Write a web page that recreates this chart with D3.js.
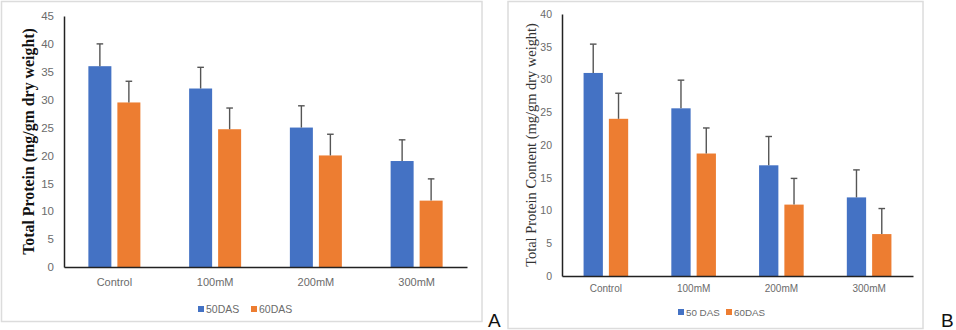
<!DOCTYPE html>
<html>
<head>
<meta charset="utf-8">
<script src="https://cdn.jsdelivr.net/npm/d3@7/dist/d3.min.js"></script>
<style>
html,body{margin:0;padding:0;background:#fff;}
svg{display:block;}
</style>
</head>
<body>
<svg id="chart" width="956" height="330"></svg>
<script>
// ---- data ----
const categories = ["Control", "100mM", "200mM", "300mM"];

const seriesA = ["50DAS", "60DAS"];
const a50 = [36, 32, 25, 19];
const a50Err = [4, 3.8, 3.9, 3.8];
const a60 = [29.5, 24.7, 20, 11.9];
const a60Err = [3.8, 3.8, 3.8, 3.9];
const yTicksA = [0, 5, 10, 15, 20, 25, 30, 35, 40, 45];
const titleA = "Total Protein (mg/gm dry weight)";

const seriesB = ["50 DAS", "60DAS"];
const b50 = [31, 25.6, 16.9, 12];
const b50Err = [4.4, 4.3, 4.4, 4.2];
const b60 = [24, 18.7, 10.9, 6.4];
const b60Err = [3.9, 3.9, 4.0, 3.9];
const yTicksB = [0, 5, 10, 15, 20, 25, 30, 35, 40];
const titleB = "Total Protein Content (mg/gm dry weight)";

const colors = ["#4472C4", "#ED7D31"];

const svg = d3.select("#chart");

function drawPanel(cfg) {
  const g = svg.append("g");
  // frame
  g.append("rect")
    .attr("x", cfg.frame[0]).attr("y", cfg.frame[1])
    .attr("width", cfg.frame[2]).attr("height", cfg.frame[3])
    .attr("fill", "none").attr("stroke", "#dcdcdc").attr("stroke-width", 1.5);

  const y = d3.scaleLinear().domain([0, d3.max(cfg.yTicks)]).range([cfg.bottom, cfg.top]);
  const x0 = d3.scaleBand().domain(categories).range([cfg.left, cfg.right]);
  const step = cfg.barW + cfg.gap;
  const pi = cfg.gap / step;
  const po = (x0.bandwidth() - step * (2 - pi)) / (2 * step);
  const x1 = d3.scaleBand().domain([0, 1]).range([0, x0.bandwidth()])
    .paddingInner(pi).paddingOuter(po);

  const series = [
    { vals: cfg.s1, errs: cfg.e1 },
    { vals: cfg.s2, errs: cfg.e2 }
  ];

  // bars
  series.forEach((s, si) => {
    g.selectAll(null).data(categories).enter().append("rect")
      .attr("x", (d) => x0(d) + x1(si))
      .attr("y", (d, i) => y(s.vals[i]))
      .attr("width", x1.bandwidth())
      .attr("height", (d, i) => y(0) - y(s.vals[i]))
      .attr("fill", colors[si]);
  });
  // error bars
  series.forEach((s, si) => {
    const cx = (d) => x0(d) + x1(si) + x1.bandwidth() / 2;
    g.selectAll(null).data(categories).enter().append("line")
      .attr("x1", cx).attr("x2", cx)
      .attr("y1", (d, i) => y(s.vals[i]))
      .attr("y2", (d, i) => y(s.vals[i] + s.errs[i]))
      .attr("stroke", "#555").attr("stroke-width", 1.4);
    g.selectAll(null).data(categories).enter().append("line")
      .attr("x1", (d) => cx(d) - 3.3).attr("x2", (d) => cx(d) + 3.3)
      .attr("y1", (d, i) => y(s.vals[i] + s.errs[i]))
      .attr("y2", (d, i) => y(s.vals[i] + s.errs[i]))
      .attr("stroke", "#555").attr("stroke-width", 1.4);
  });

  // y axis
  const ya = g.append("g").attr("transform", `translate(${cfg.left},0)`)
    .call(d3.axisLeft(y).tickValues(cfg.yTicks).tickSize(0).tickPadding(cfg.tickPad));
  ya.select(".domain").attr("stroke", "#222").attr("stroke-width", 1.5);
  ya.selectAll("text").attr("fill", "#6b6b6b")
    .style("font-family", "'Liberation Sans', Arial, sans-serif")
    .style("font-size", cfg.tickFont + "px");

  // x axis
  const xa = g.append("g").attr("transform", `translate(0,${cfg.bottom})`)
    .call(d3.axisBottom(x0).tickSize(0).tickPadding(cfg.xPad).tickSizeOuter(0));
  xa.select(".domain").attr("stroke", "#222").attr("stroke-width", 1.5);
  xa.selectAll("text").attr("fill", "#6b6b6b")
    .style("font-family", "'Liberation Sans', Arial, sans-serif")
    .style("font-size", cfg.xFont + "px");

  // y title
  const t = g.append("text")
    .attr("transform", `translate(${cfg.titleX},${cfg.titleY}) rotate(-90)`)
    .attr("text-anchor", "middle")
    .attr("dominant-baseline", "central")
    .style("font-family", "'Liberation Serif', 'Times New Roman', serif")
    .style("font-weight", cfg.titleBold ? "bold" : "normal")
    .style("font-size", "15px")
    .attr("fill", cfg.titleColor)
    .text(cfg.title);
  const len = t.node().getComputedTextLength();
  t.style("font-size", (15 * cfg.titleLen / len) + "px");

  // legend
  cfg.names.forEach((n, i) => {
    g.append("rect")
      .attr("x", cfg.legX[i]).attr("y", cfg.legY - 3)
      .attr("width", 6).attr("height", 6).attr("fill", colors[i]);
    g.append("text")
      .attr("x", cfg.legX[i] + 8).attr("y", cfg.legY)
      .attr("dominant-baseline", "central")
      .attr("fill", "#6b6b6b")
      .style("font-family", "'Liberation Sans', Arial, sans-serif")
      .style("font-size", cfg.legFont + "px")
      .text(n);
  });

  // panel letter
  g.append("text")
    .attr("x", cfg.letterX).attr("y", 327)
    .style("font-family", "'Liberation Sans', Arial, sans-serif")
    .style("font-size", "19px")
    .attr("fill", "#111")
    .text(cfg.letter);
}

drawPanel({
  frame: [1.5, 1.5, 480.5, 320],
  left: 64, right: 467, top: 16, bottom: 267,
  yTicks: yTicksA, s1: a50, e1: a50Err, s2: a60, e2: a60Err,
  barW: 23, gap: 6,
  tickPad: 10, tickFont: 11.5, xPad: 11, xFont: 11,
  title: titleA, titleX: 28, titleY: 141.5, titleLen: 227, titleBold: true, titleColor: "#111",
  names: seriesA, legX: [198, 251], legY: 309, legFont: 10.5,
  letter: "A", letterX: 488
});

drawPanel({
  frame: [508, 1.5, 415, 327],
  left: 562, right: 913, top: 14, bottom: 276,
  yTicks: yTicksB, s1: b50, e1: b50Err, s2: b60, e2: b60Err,
  barW: 19.3, gap: 6,
  tickPad: 10, tickFont: 10.5, xPad: 9, xFont: 10,
  title: titleB, titleX: 531, titleY: 145, titleLen: 244, titleBold: false, titleColor: "#333",
  names: seriesB, legX: [678, 726], legY: 312, legFont: 9.8,
  letter: "B", letterX: 941
});
</script>
</body>
</html>
